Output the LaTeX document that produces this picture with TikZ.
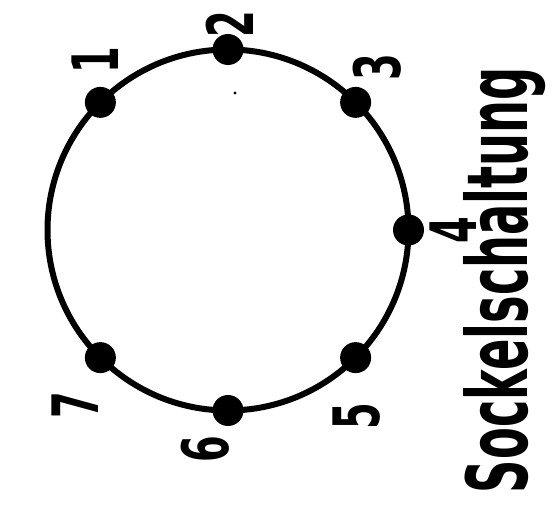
\documentclass[tikz,border=0pt]{standalone}
\usepackage{fontspec}
\setmainfont{DejaVu Sans}
\begin{document}
\begin{tikzpicture}[x=1pt,y=-1pt,
  ring/.style={circle,draw,line width=6pt,minimum size=361pt,inner sep=0pt,outer sep=0pt},
  pin/.style={circle,fill,minimum size=31pt,inner sep=0pt},
  num/.style={rotate=90,inner sep=0pt,font=\fontsize{64}{64}\selectfont\bfseries},
  title/.style={rotate=90,inner sep=0pt}]
\useasboundingbox (0,0) rectangle (555,518);
\node[ring] (c) at (228,230) {};
\node[pin] (p1) at (c.135) {};
\node[pin] (p2) at (c.90) {};
\node[pin] (p3) at (c.45) {};
\node[pin] (p4) at (c.0) {};
\node[pin] (p5) at (c.315) {};
\node[pin] (p6) at (c.270) {};
\node[pin] (p7) at (c.225) {};
\fill (235,93) circle (1.6pt);
\node[num] (l1) at (95,60) {\scalebox{0.6}[1]{1}};
\node[num] (l2) at (230,24) {\scalebox{0.6}[1]{2}};
\node[num] (l3) at (377,67) {\scalebox{0.6}[1]{3}};
\node[num] (l4) at (453,230) {\scalebox{0.6}[1]{4}};
\node[num] (l5) at (357,416) {\scalebox{0.6}[1]{5}};
\node[num] (l6) at (205,449) {\scalebox{0.6}[1]{6}};
\node[num] (l7) at (75,405) {\scalebox{0.6}[1]{7}};
\node[title] (t) at (505,280) {\resizebox{426pt}{64pt}{\bfseries Sockelschaltung}};
\end{tikzpicture}
\end{document}
